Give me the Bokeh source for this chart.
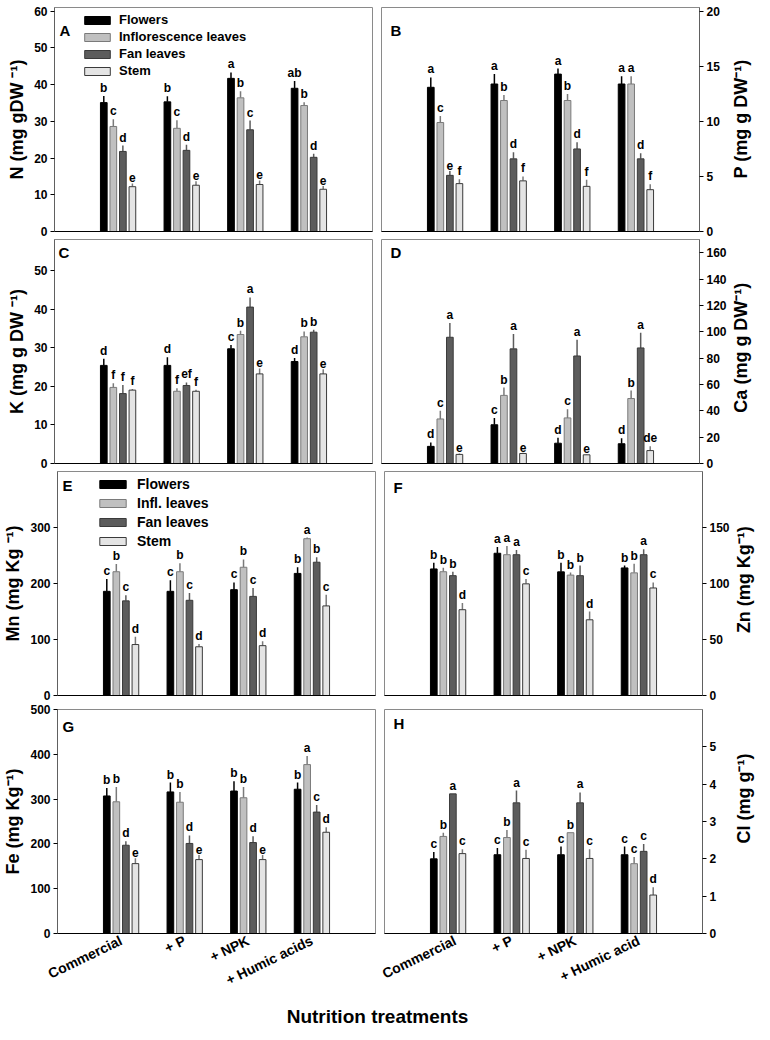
import math
from bokeh.plotting import figure
from bokeh.models import FixedTicker, Label, Legend, LegendItem
from bokeh.layouts import row, column
from bokeh.embed import file_html
from bokeh.resources import INLINE
from bokeh.core.properties import value

# ---------------- data ----------------
treatments = ["Commercial", "+ P", "+ NPK", "+ Humic acids"]
treatments_h = ["Commercial", "+ P", "+ NPK", "+ Humic acid"]
organs_long = ["Flowers", "Inflorescence leaves", "Fan leaves", "Stem"]
organs_short = ["Flowers", "Infl. leaves", "Fan leaves", "Stem"]
x_title = "Nutrition treatments"

# order of inner lists: Flowers, Inflorescence leaves, Fan leaves, Stem
N_VAL = [[35.1, 35.3, 41.7, 39.0], [28.6, 28.1, 36.4, 34.3], [21.8, 22.1, 27.7, 20.2], [12.2, 12.6, 12.8, 11.5]]
N_ERR = [[1.8, 1.5, 1.6, 2.0], [2.0, 2.2, 1.8, 0.9], [1.6, 1.5, 2.5, 1.0], [0.9, 1.1, 1.1, 0.9]]
N_SIG = [["b", "b", "a", "ab"], ["c", "c", "b", "b"], ["d", "d", "c", "d"], ["e", "e", "e", "e"]]

P_VAL = [[13.1, 13.4, 14.3, 13.4], [9.9, 11.9, 11.9, 13.4], [5.1, 6.6, 7.5, 6.6], [4.35, 4.6, 4.1, 3.8]]
P_ERR = [[0.9, 0.9, 0.5, 0.7], [0.6, 0.5, 0.6, 0.7], [0.4, 0.6, 0.6, 0.5], [0.4, 0.4, 0.6, 0.5]]
P_SIG = [["a", "a", "a", "a"], ["c", "b", "b", "a"], ["e", "d", "d", "d"], ["f", "f", "f", "f"]]

K_VAL = [[25.4, 25.4, 29.7, 26.4], [19.7, 18.7, 33.4, 32.8], [18.1, 20.2, 40.5, 34.0], [19.0, 18.7, 23.2, 23.2]]
K_ERR = [[1.7, 2.1, 1.0, 0.9], [1.1, 0.8, 1.0, 1.4], [2.2, 0.8, 2.5, 0.6], [0.3, 0.4, 1.4, 1.2]]
K_SIG = [["d", "d", "c", "d"], ["f", "f", "b", "b"], ["f", "ef", "a", "b"], ["f", "f", "e", "e"]]

CA_VAL = [[13.0, 29.4, 15.4, 15.0], [33.8, 51.7, 34.6, 49.3], [95.8, 87.0, 81.6, 87.7], [6.9, 7.6, 6.6, 9.8]]
CA_ERR = [[3.0, 5.2, 4.2, 4.1], [6.2, 5.9, 6.6, 6.1], [10.8, 11.3, 12.3, 11.6], [0.7, 0.5, 0.5, 3.2]]
CA_SIG = [["d", "c", "d", "d"], ["c", "b", "c", "b"], ["a", "a", "a", "a"], ["e", "e", "e", "de"]]

MN_VAL = [[186, 186, 189, 218], [221, 221, 229, 280], [169, 170, 177, 238], [91, 87, 89, 160]]
MN_ERR = [[22, 20, 13, 11], [14, 15, 14, 2], [10, 13, 15, 9], [14, 5, 8, 20]]
MN_SIG = [["c", "c", "c", "b"], ["b", "b", "b", "a"], ["c", "c", "c", "b"], ["d", "d", "d", "c"]]

ZN_VAL = [[113.0, 127.0, 110.4, 113.9], [110.5, 125.7, 107.5, 109.5], [107.0, 125.7, 107.0, 125.7], [76.6, 99.7, 67.6, 96.0]]
ZN_ERR = [[5.5, 5.7, 8.1, 2.1], [3.5, 7.8, 2.3, 8.1], [3.4, 4.3, 9.0, 4.9], [6.1, 4.3, 7.3, 4.9]]
ZN_SIG = [["b", "a", "b", "b"], ["b", "a", "b", "b"], ["b", "a", "b", "a"], ["d", "c", "d", "c"]]

FE_VAL = [[307, 316, 318, 322], [294, 293, 303, 377], [197, 201, 203, 271], [156, 165, 165, 226]]
FE_ERR = [[18, 21, 22, 15], [33, 23, 24, 19], [9, 18, 14, 16], [12, 10, 10, 11]]
FE_SIG = [["b", "b", "b", "b"], ["b", "b", "b", "a"], ["d", "d", "d", "c"], ["e", "e", "e", "d"]]

CL_VAL = [[2.0, 2.11, 2.11, 2.11], [2.6, 2.57, 2.7, 1.87], [3.74, 3.5, 3.5, 2.2], [2.14, 2.01, 2.01, 1.03]]
CL_ERR = [[0.18, 0.18, 0.22, 0.22], [0.1, 0.2, 0.0, 0.18], [0.0, 0.33, 0.28, 0.2], [0.12, 0.23, 0.25, 0.21]]
CL_SIG = [["c", "c", "c", "c"], ["b", "b", "b", "c"], ["a", "a", "a", "c"], ["c", "c", "c", "d"]]

# ---------------- style ----------------
FONT = "Liberation Sans"
FILL = ["#000000", "#c0c0c0", "#5c5c5c", "#e4e4e4"]
LINE = ["#000000", "#7a7a7a", "#3a3a3a", "#3a3a3a"]
ERRC = ["#000000", "#7a7a7a", "#5c5c5c", "#7a7a7a"]
OFFS = [-0.225, -0.075, 0.075, 0.225]
BW = 0.105

FW = 318
FH = 224
LB = 54
RB = 30
LABW = 25
BOTTOM = 60


def panel(tag, ylabel, ymax, yticks, vals, errs, sig, col, top_b, bot_b,
          xlabels=None, legend=None, tag_px=(5, 6)):
    left = col == 0
    p = figure(frame_width=FW, frame_height=FH, x_range=(0, 5), y_range=(0, ymax),
               y_axis_location="left" if left else "right", tools="",
               output_backend="svg", toolbar_location=None,
               min_border_left=LB if left else 5, min_border_right=4 if left else RB,
               min_border_top=top_b, min_border_bottom=bot_b)
    p.grid.visible = False
    p.outline_line_color = "#8a8a8a"
    p.outline_line_width = 1
    p.background_fill_color = "white"
    p.border_fill_color = "white"

    rends = []
    for k in range(4):
        xs = [i + 1 + OFFS[k] for i in range(4)]
        tops = [v + e for v, e in zip(vals[k], errs[k])]
        p.segment(x0=xs, y0=vals[k], x1=xs, y1=tops, line_color=ERRC[k], line_width=1.5)
        r = p.vbar(x=xs, top=vals[k], bottom=0, width=BW, fill_color=FILL[k],
                   line_color=LINE[k], line_width=1)
        rends.append(r)
        p.text(x=xs, y=tops, text=sig[k], text_align="center", text_baseline="bottom",
               y_offset=-1, text_font=value(FONT), text_font_style="bold",
               text_font_size="12px", text_color="black")

    ax = p.yaxis[0]
    ax.ticker = FixedTicker(ticks=yticks)
    ax.minor_tick_line_color = None
    ax.major_tick_out = 4
    ax.major_tick_in = 0
    ax.major_tick_line_color = "black"
    ax.axis_line_color = "#606060"
    ax.major_label_text_font = FONT
    ax.major_label_text_font_style = "bold"
    ax.major_label_text_font_size = "12px"
    ax.major_label_text_color = "black"
    ax.major_label_standoff = 3
    if left:
        ax.axis_label = ylabel
        ax.axis_label_text_font = FONT
        ax.axis_label_text_font_style = "bold"
        ax.axis_label_text_font_size = "18px"
        ax.axis_label_text_color = "black"
        ax.axis_label_standoff = 4

    xa = p.xaxis[0]
    xa.axis_line_color = "black"
    xa.major_tick_line_color = None
    xa.minor_tick_line_color = None
    xa.major_tick_out = 0
    xa.major_tick_in = 0
    if xlabels:
        xa.ticker = FixedTicker(ticks=[1, 2, 3, 4])
        xa.major_label_overrides = {i + 1: t for i, t in enumerate(xlabels)}
        xa.major_label_orientation = 0.45
        xa.major_label_text_font = FONT
        xa.major_label_text_font_style = "bold"
        xa.major_label_text_font_size = "14px"
        xa.major_label_text_color = "black"
        xa.major_label_standoff = 6
    else:
        xa.ticker = FixedTicker(ticks=[])
        xa.major_label_text_font_size = "0px"
        xa.major_label_standoff = 0

    dx, dy = tag_px
    p.add_layout(Label(x=dx * 5 / FW, y=ymax * (1 - dy / FH), text=tag, text_font=FONT,
                       text_font_style="bold", text_font_size="15px",
                       text_baseline="top", text_align="left", text_color="black"))

    if legend:
        labels, lx, ltop, lsp, fsz, gw, stand = legend
        items = [LegendItem(label=labels[k], renderers=[rends[k]]) for k in range(4)]
        h = 4 * lsp
        lg = Legend(items=items, location=(lx, FH - ltop - h), orientation="vertical",
                    padding=0, margin=0, spacing=0, label_height=lsp, glyph_height=10,
                    glyph_width=gw, label_standoff=stand, label_text_font=FONT,
                    label_text_font_style="bold", label_text_font_size=fsz,
                    label_text_color="black",
                    background_fill_alpha=0, border_line_color=None)
        p.add_layout(lg)
    return p


def side_label(text, top_b, bot_b):
    """Narrow strip holding a right-hand y label that reads bottom-to-top."""
    h = top_b + FH + bot_b
    f = figure(width=LABW, height=h, x_range=(0, 1), y_range=(0, 1), x_axis_location=None,
               y_axis_location=None, output_backend="svg", toolbar_location=None, tools="",
               min_border=0, outline_line_color=None)
    f.grid.visible = False
    f.add_layout(Label(x=0.45, y=1 - (top_b + FH / 2) / h, text=text, angle=math.pi / 2,
                       text_align="center", text_baseline="middle", text_font=FONT,
                       text_font_style="bold", text_font_size="18px", text_color="black"))
    return f


pA = panel("A", "N (mg gDW \u207b\u00b9)", 61, [0, 10, 20, 30, 40, 50, 60], N_VAL, N_ERR, N_SIG, 0, 7, 8,
           legend=(organs_long, 27, 4, 17, "13px", 32, 6), tag_px=(5, 14))
pB = panel("B", "", 20.35, [0, 5, 10, 15, 20], P_VAL, P_ERR, P_SIG, 1, 7, 8, tag_px=(9, 14))
lB = side_label("P (mg g DW\u207b\u00b9)", 7, 8)
pC = panel("C", "K (mg g DW \u207b\u00b9)", 58, [0, 10, 20, 30, 40, 50], K_VAL, K_ERR, K_SIG, 0, 0, 8,
           tag_px=(4, 4))
pD = panel("D", "", 170, [0, 20, 40, 60, 80, 100, 120, 140, 160], CA_VAL, CA_ERR, CA_SIG,
           1, 0, 8, tag_px=(9, 4))
lD = side_label("Ca (mg g DW\u207b\u00b9)", 0, 8)
pE = panel("E", "Mn (mg Kg \u207b\u00b9)", 400, [0, 100, 200, 300], MN_VAL, MN_ERR, MN_SIG, 0, 0, 8,
           legend=(organs_short, 39, 3, 19, "14px", 33, 8), tag_px=(5, 5))
pF = panel("F", "", 200, [0, 50, 100, 150], ZN_VAL, ZN_ERR, ZN_SIG, 1, 0, 8, tag_px=(9, 7))
lF = side_label("Zn (mg Kg\u207b\u00b9)", 0, 8)
pG = panel("G", "Fe (mg Kg\u207b\u00b9)", 500, [0, 100, 200, 300, 400, 500], FE_VAL, FE_ERR, FE_SIG, 0, 6, BOTTOM,
           xlabels=treatments, tag_px=(5, 8))
pH = panel("H", "", 6, [0, 1, 2, 3, 4, 5], CL_VAL, CL_ERR, CL_SIG, 1, 6, BOTTOM,
           xlabels=treatments_h, tag_px=(9, 5))
lH = side_label("Cl (mg g\u207b\u00b9)", 6, BOTTOM)

TOTAL_W = LB + FW + 4 + 5 + FW + RB + LABW
tf = figure(width=TOTAL_W, height=32, x_range=(0, 1), y_range=(0, 1), x_axis_location=None,
            y_axis_location=None, output_backend="svg", toolbar_location=None, tools="",
            min_border=0, outline_line_color=None)
tf.grid.visible = False
tf.add_layout(Label(x=0.5, y=0.45, text=x_title, text_align="center", text_baseline="middle",
                    text_font=FONT, text_font_style="bold", text_font_size="19px", text_color="black"))

layout = column(row(pA, pB, lB), row(pC, pD, lD), row(pE, pF, lF), row(pG, pH, lH), tf)

open("out.html", "w").write(file_html(layout, INLINE))
